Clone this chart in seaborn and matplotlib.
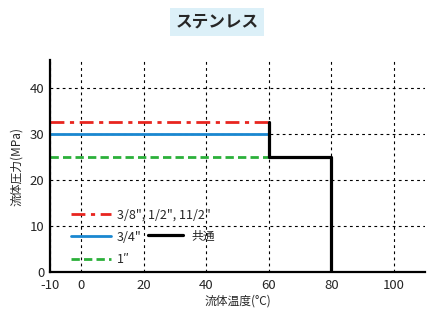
import matplotlib
matplotlib.use("Agg")
import matplotlib.pyplot as plt
import seaborn as sns
import pandas as pd
from matplotlib.lines import Line2D

sns.set_theme(style="white")
plt.rcParams['font.family'] = ['Noto Sans CJK JP', 'DejaVu Sans']
plt.rcParams['axes.unicode_minus'] = False

# Data
temp_ranges = [-10, 60]
red_pressure = [32.5, 32.5]
blue_pressure = [30, 30]
green_pressure = [25, 25]
common_temp = [60, 60, 80, 80]
common_pressure = [32.5, 25, 25, 0]
x_ticks = [-10, 0, 20, 40, 60, 80, 100]
y_ticks = [0, 10, 20, 30, 40]
labels = ['3/8", 1/2", 11/2"', '3/4"', '1″', '共通']

fig = plt.figure(figsize=(4.34, 3.2), dpi=100)
ax = fig.add_axes([50/434, 48/320, 375/434, 212/320])

red = '#e8251f'
blue = '#1a87d0'
green = '#2bb03a'

df_r = pd.DataFrame({'t': temp_ranges, 'p': red_pressure})
df_b = pd.DataFrame({'t': temp_ranges, 'p': blue_pressure})
df_g = pd.DataFrame({'t': temp_ranges, 'p': green_pressure})
df_c = pd.DataFrame({'t': common_temp, 'p': common_pressure})

kw = dict(sort=False, estimator=None, errorbar=None)
sns.lineplot(data=df_r, x='t', y='p', ax=ax, color=red, lw=2, linestyle=(0, (5, 2, 1.5, 2)), **kw)
sns.lineplot(data=df_b, x='t', y='p', ax=ax, color=blue, lw=2, **kw)
sns.lineplot(data=df_g, x='t', y='p', ax=ax, color=green, lw=2, linestyle=(0, (3, 1.5)), **kw)
sns.lineplot(data=df_c, x='t', y='p', ax=ax, color='black', lw=2.3, **kw)

ax.set_xlim(-10, 110)
ax.set_ylim(0, 46)
ax.set_xticks(x_ticks)
ax.set_yticks(y_ticks)
ax.tick_params(axis='both', labelsize=9.5, length=0)
ax.tick_params(axis='x', pad=5)
ax.tick_params(axis='y', pad=4)
for s in ['top', 'right']:
    ax.spines[s].set_visible(False)
for s in ['left', 'bottom']:
    ax.spines[s].set_color('black')
    ax.spines[s].set_linewidth(1.6)
ax.grid(True, color='black', linestyle=(0, (2.5, 3)), linewidth=0.8)
ax.set_axisbelow(True)
ax.set_xlabel('流体温度(°C)', fontsize=8.5, labelpad=2)
ax.set_ylabel('流体圧力(MPa)', fontsize=8.5, labelpad=5)

h1 = [Line2D([], [], color=red, lw=2, linestyle=(0, (5, 2, 1.5, 2))),
      Line2D([], [], color=blue, lw=2),
      Line2D([], [], color=green, lw=2, linestyle=(0, (3, 1.5)))]
leg1 = ax.legend(h1, labels[:3], loc='upper left', bbox_to_anchor=(0.055, 0.30),
                 frameon=False, fontsize=9, handlelength=3.2, labelspacing=0.75,
                 borderpad=0, borderaxespad=0, handletextpad=0.5)
ax.add_artist(leg1)
h2 = [Line2D([], [], color='black', lw=2.3)]
ax.legend(h2, labels[3:], loc='center left', bbox_to_anchor=(0.26, 0.17),
          frameon=False, fontsize=8.5, handlelength=3.0, handletextpad=0.7,
          borderpad=0, borderaxespad=0)

fig.text(217/434, 1 - 22/320, 'ステンレス', ha='center', va='center', fontsize=12,
         fontweight='bold', bbox=dict(boxstyle='square,pad=0.3', facecolor='#dcf0f8', edgecolor='none'))

fig.savefig('out.png', dpi=100)
